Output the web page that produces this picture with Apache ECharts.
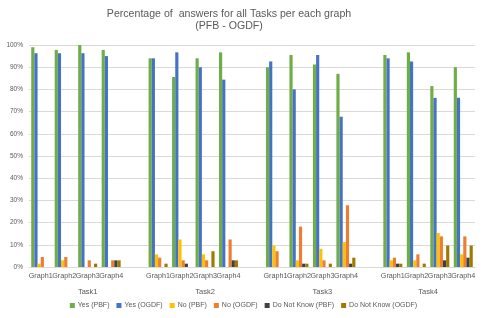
<!DOCTYPE html>
<html>
<head>
<meta charset="utf-8">
<script src="https://cdn.jsdelivr.net/npm/echarts@6/dist/echarts.min.js"></script>
<style>html,body{margin:0;padding:0;background:#fff;}#c{width:487px;height:318px;}</style>
</head>
<body>
<div id="c"></div>
<script>
// Categories: 4 graphs per task, one blank slot between tasks
var graphLabels = ['Graph1','Graph2','Graph3','Graph4','',
                   'Graph1','Graph2','Graph3','Graph4','',
                   'Graph1','Graph2','Graph3','Graph4','',
                   'Graph1','Graph2','Graph3','Graph4'];
var taskLabels = ['Task1','Task2','Task3','Task4'];
var seriesNames = ['Yes (PBF)','Yes (OGDF)','No (PBF)','No (OGDF)','Do Not Know (PBF)','Do Not Know (OGDF)'];
var seriesColors = ['#70AD47','#4472C4','#FFC000','#ED7D31','#404040','#9E7B00'];
// values in percent, '-' for blank slots
var yesPBF   = [99,97.8,100,97.8,'-', 94,85.6,94,96.7,'-', 90,95.5,91.2,87,'-', 95.5,96.7,81.5,90];
var yesOGDF  = [96.3,96.3,96.3,95,'-', 94,96.7,90,84.4,'-', 92.6,80,95.5,67.7,'-', 94,92.6,76.2,76.2];
var noPBF    = [1.5,3,0,0,'-', 5.7,12.4,5.7,0,'-', 9.7,3,8.2,11.2,'-', 3,3,15.3,5.7];
var noOGDF   = [4.5,4.5,3,3,'-', 4.2,3,3,12.4,'-', 7.1,18.2,3,27.8,'-', 4.2,5.7,13.8,13.8];
var dnkPBF   = [0,0,0,3,'-', 0,1.5,0,3,'-', 0,1.5,0,1.5,'-', 1.5,0,3,4.2];
var dnkOGDF  = [0,0,1.5,3,'-', 1.5,0,7.1,3,'-', 0,1.5,1.5,4.2,'-', 1.5,1.5,9.7,9.7];
var allValues = [yesPBF, yesOGDF, noPBF, noOGDF, dnkPBF, dnkOGDF];

// task label axis: 39 half-slot points, labels at task centres
var taskAxisData = [];
var taskPos = [5, 15, 25, 34];
for (var i = 0; i < 39; i++) taskAxisData.push('');
taskPos.forEach(function (p, k) { taskAxisData[p] = taskLabels[k]; });

var chart = echarts.init(document.getElementById('c'), null, {renderer: 'canvas'});
var txt = '#595959';
var font = "'Liberation Sans Narrow', 'Liberation Sans', sans-serif";
chart.setOption({
  animation: false,
  textStyle: {fontFamily: font},
  title: {
    text: 'Percentage of  answers for all Tasks per each graph\n(PFB - OGDF)',
    left: 224, top: 3, textAlign: 'center',
    textStyle: {fontSize: 10.6, fontWeight: 'normal', color: txt, lineHeight: 12, fontFamily: font}
  },
  legend: {
    data: seriesNames, bottom: 4, left: 'center',
    itemWidth: 5, itemHeight: 5, itemGap: 7, icon: 'rect',
    textStyle: {fontSize: 7, color: txt, padding: [0, 0, 0, -2]}
  },
  grid: {left: 29, right: 12, top: 45, bottom: 51, containLabel: false},
  xAxis: [{
    type: 'category', data: graphLabels,
    axisLine: {lineStyle: {color: '#D9D9D9'}},
    axisTick: {show: false},
    axisLabel: {interval: 0, fontSize: 7.2, color: txt, margin: 6}
  }, {
    type: 'category', data: taskAxisData, boundaryGap: false, position: 'bottom', offset: 0,
    axisLine: {show: false}, axisTick: {show: false},
    axisLabel: {interval: 0, fontSize: 7.5, color: txt, margin: 21}
  }],
  yAxis: {
    type: 'value', min: 0, max: 100, interval: 10,
    axisLabel: {formatter: '{value}%', fontSize: 6.5, color: txt, margin: 6},
    axisLine: {show: false}, axisTick: {show: false},
    splitLine: {lineStyle: {color: '#D9D9D9'}}
  },
  series: seriesNames.map(function (n, i) {
    return {
      name: n, type: 'bar', data: allValues[i], xAxisIndex: 0,
      barGap: '0%', barCategoryGap: '19%',
      itemStyle: {color: seriesColors[i]}
    };
  })
});
</script>
</body>
</html>
